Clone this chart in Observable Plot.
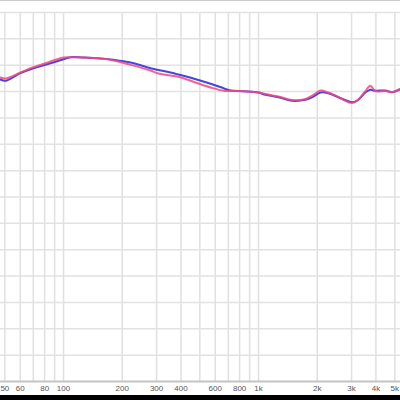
<!DOCTYPE html>
<html><head>
<meta charset="utf-8">
<script src="https://cdn.jsdelivr.net/npm/d3@7"></script>
<script src="https://cdn.jsdelivr.net/npm/@observablehq/plot@0.6"></script>
<style>
body{margin:0;background:#fff;width:400px;overflow:hidden}
#c svg{display:block;border-top:1px solid #ccc;box-sizing:border-box}
</style>
</head><body>
<div id="c"></div>
<div style="height:6px;background:#000"></div>
<script>
const freqs = [47.5,50.4,60.1,70.1,80.8,91,100,108.6,126.6,154.8,180.5,220.6,279.1,303,353.4,412,486.6,567.7,661.9,718.5,837.7,1000,1085,1265,1492,1741,1890,2077,2281,2566,3027,3251,3529,3745,3971,4463,4843,5346];
const blueLevels = [57.29,57.04,58.49,59.43,60.08,60.65,61.14,61.52,61.46,61.27,61.03,60.52,59.43,59.13,58.62,57.99,57.23,56.47,55.64,55.2,55.07,54.82,54.39,53.93,53.25,53.44,53.93,54.82,54.69,53.93,52.98,53.44,54.82,55.34,55.15,55.21,54.88,55.45];
const redLevels = [57.67,57.48,58.62,59.62,60.37,61.03,61.46,61.52,61.46,61.27,60.9,60.08,59.0,58.49,58.05,57.54,56.59,55.77,55.14,55.1,55.07,54.82,54.54,54.07,53.4,53.6,54.26,55.2,54.82,53.97,52.83,53.5,55.1,56.09,55.1,55.1,54.92,55.58];
const gridFreqs = [50,60,70,80,90,100,200,300,400,500,600,700,800,900,1000,2000,3000,4000,5000];
const tickFreqs = [50,60,80,100,200,300,400,600,800,1000,2000,3000,4000,5000];
const tickLabels = ["50","60","80","100","200","300","400","600","800","1k","2k","3k","4k","5k"];
const gridLevels = [5,10,15,20,25,30,35,40,45,50,55,60,65,70];

const blueData = freqs.map((f,i)=>({f, v: blueLevels[i]}));
const redData = freqs.map((f,i)=>({f, v: redLevels[i]}));
const tickData = tickFreqs.map((f,i)=>({f, label: tickLabels[i]}));

const chart = Plot.plot({
  width: 400, height: 394,
  marginLeft: 0, marginRight: 0, marginTop: 11, marginBottom: 14,
  style: {background: "#fff", fontFamily: "Liberation Sans, Arial, sans-serif"},
  x: {type: "log", domain: [47.5, 5346], axis: null},
  y: {domain: [0, 70], axis: null},
  marks: [
    Plot.ruleX(gridFreqs, {stroke: "#e0e0e0", strokeWidth: 1.5}),
    Plot.ruleY(gridLevels, {stroke: "#e2e2e2", strokeWidth: 1.5}),
    Plot.ruleY([0], {stroke: "#c4c4c4", strokeWidth: 2}),
    Plot.text(tickData, {x: "f", text: "label", frameAnchor: "bottom", dy: 9, fontSize: 8, fill: "#555"}),
    Plot.line(blueData, {x: "f", y: "v", stroke: "#4646dc", strokeWidth: 2, curve: "catmull-rom", clip: true}),
    Plot.line(redData, {x: "f", y: "v", stroke: "#f24680", strokeWidth: 2, strokeOpacity: 0.85, curve: "catmull-rom", clip: true})
  ]
});
document.getElementById("c").appendChild(chart);
</script>
</body></html>
